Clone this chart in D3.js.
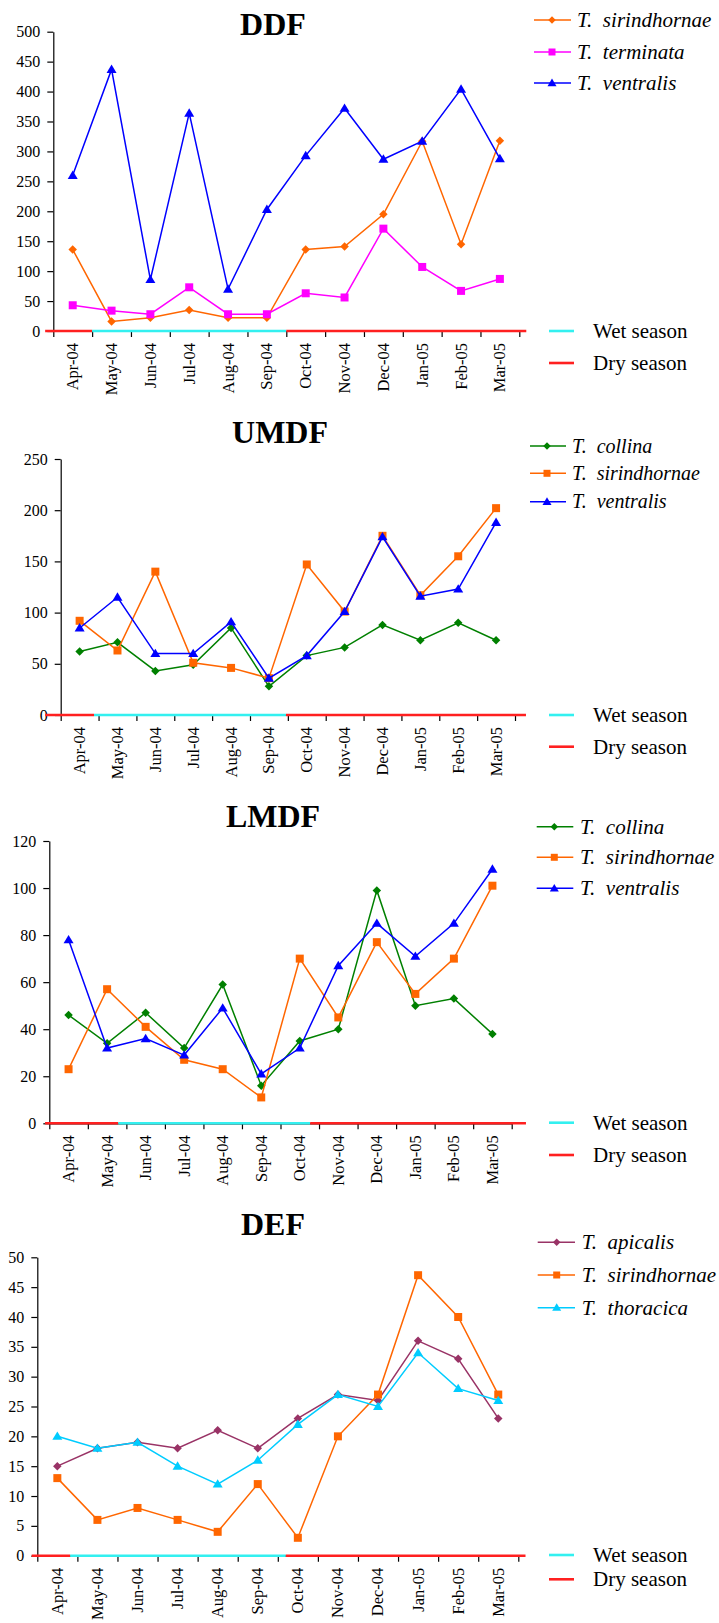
<!DOCTYPE html>
<html>
<head>
<meta charset="utf-8">
<script src="https://cdn.jsdelivr.net/npm/d3@7/dist/d3.min.js"></script>
<style>
  html, body { margin: 0; padding: 0; background: #fff; }
  svg { display: block; }
</style>
</head>
<body>
<svg id="chart" width="719" height="1623"></svg>
<script>
// Sampling months (April 2004 – March 2005)
const months = ["Apr-04", "May-04", "Jun-04", "Jul-04", "Aug-04", "Sep-04",
                "Oct-04", "Nov-04", "Dec-04", "Jan-05", "Feb-05", "Mar-05"];

// DDF
const ddfSirindhornae = [136, 16, 22, 35, 22, 22, 136, 141, 195, 317, 145, 318];
const ddfTerminata    = [43, 34, 28, 73, 28, 28, 63, 56, 171, 107, 67, 87];
const ddfVentralis    = [260, 437, 86, 364, 70, 203, 293, 372, 287, 317, 404, 288];
const ddfTicks        = [0, 50, 100, 150, 200, 250, 300, 350, 400, 450, 500];

// UMDF
const umdfCollina      = [62, 71, 43, 49, 85, 28, 58, 66, 88, 73, 90, 73];
const umdfSirindhornae = [92, 63, 140, 51, 46, 36, 147, 101, 175, 117, 155, 202];
const umdfVentralis    = [85, 115, 60, 60, 91, 36, 58, 101, 174, 116, 123, 188];
const umdfTicks        = [0, 50, 100, 150, 200, 250];

// LMDF
const lmdfCollina      = [46, 34, 47, 32, 59, 16, 35, 40, 99, 50, 53, 38];
const lmdfSirindhornae = [23, 57, 41, 27, 23, 11, 70, 45, 77, 55, 70, 101];
const lmdfVentralis    = [78, 32, 36, 29, 49, 21, 32, 67, 85, 71, 85, 108];
const lmdfTicks        = [0, 20, 40, 60, 80, 100, 120];

// DEF
const defApicalis      = [15, 18, 19, 18, 21, 18, 23, 27, 26, 36, 33, 23];
const defSirindhornae  = [13, 6, 8, 6, 4, 12, 3, 20, 27, 47, 40, 27];
const defThoracica     = [20, 18, 19, 15, 12, 16, 22, 27, 25, 34, 28, 26];
const defTicks         = [0, 5, 10, 15, 20, 25, 30, 35, 40, 45, 50];

const seasonNames = ["Wet season", "Dry season"];

// ---- styles ----
const FONT = "'Liberation Serif', Tinos, 'Times New Roman', serif";
const C = {
  orange: "#FF6600", magenta: "#FF00FF", blue: "#0000FF", green: "#008000",
  purple: "#993366", sky: "#00CCFF", wet: "#33F0F0", dry: "#FF2020"
};

// Excel-like marker shapes, size = characteristic width in px
const diamond = { draw(ctx, s) { const r = s / 2; ctx.moveTo(0, -r); ctx.lineTo(r, 0); ctx.lineTo(0, r); ctx.lineTo(-r, 0); ctx.closePath(); } };
const square  = { draw(ctx, s) { const r = s / 2; ctx.rect(-r, -r, s, s); } };
const triangle = { draw(ctx, s) { const w = s / 2, h = s * 0.84; ctx.moveTo(0, -h * 0.58); ctx.lineTo(w, h * 0.42); ctx.lineTo(-w, h * 0.42); ctx.closePath(); } };
const markerSize = { diamond: 8.5, square: 8, triangle: 10 };
const shapes = { diamond, square, triangle };

// ---- panel definitions ----
const panels = [
  {
    title: "DDF", yTicks: ddfTicks,
    series: [
      { name: "sirindhornae", values: ddfSirindhornae, color: C.orange,  shape: "diamond" },
      { name: "terminata",    values: ddfTerminata,    color: C.magenta, shape: "square" },
      { name: "ventralis",    values: ddfVentralis,    color: C.blue,    shape: "triangle" }
    ],
    box: { x0: 53.3, x1: 519.3, yTop: 31.7, yBot: 331 },
    title_: { x: 273, y: 35 },
    season: { left: -0.21, wetFrom: 1.0, wetTo: 6.0, right: 12.18 },
    legend: { lx0: 534, lx1: 571, mx: 552, tx: 577, rows: [20, 52, 83], fs: 21 },
    seasonLegend: { lx0: 549, lx1: 574, tx: 593, rows: [331, 363] }
  },
  {
    title: "UMDF", yTicks: umdfTicks,
    series: [
      { name: "collina",      values: umdfCollina,      color: C.green,  shape: "diamond" },
      { name: "sirindhornae", values: umdfSirindhornae, color: C.orange, shape: "square" },
      { name: "ventralis",    values: umdfVentralis,    color: C.blue,   shape: "triangle" }
    ],
    box: { x0: 60.7, x1: 515, yTop: 459, yBot: 715 },
    title_: { x: 280, y: 443.3 },
    season: { left: -0.41, wetFrom: 0.88, wetTo: 5.95, right: 12.29 },
    legend: { lx0: 530, lx1: 566, mx: 547, tx: 572, rows: [446, 473.3, 501.7], fs: 20 },
    seasonLegend: { lx0: 549, lx1: 574, tx: 593, rows: [715, 746.7] }
  },
  {
    title: "LMDF", yTicks: lmdfTicks,
    series: [
      { name: "collina",      values: lmdfCollina,      color: C.green,  shape: "diamond" },
      { name: "sirindhornae", values: lmdfSirindhornae, color: C.orange, shape: "square" },
      { name: "ventralis",    values: lmdfVentralis,    color: C.blue,   shape: "triangle" }
    ],
    box: { x0: 49.3, x1: 511.7, yTop: 841, yBot: 1123.3 },
    title_: { x: 273, y: 827.3 },
    season: { left: -0.11, wetFrom: 1.79, wetTo: 6.77, right: 12.37 },
    legend: { lx0: 536.7, lx1: 573.3, mx: 554.3, tx: 580, rows: [826.7, 857.3, 888.3], fs: 21 },
    seasonLegend: { lx0: 549, lx1: 574, tx: 593, rows: [1122.7, 1155] }
  },
  {
    title: "DEF", yTicks: defTicks,
    series: [
      { name: "apicalis",     values: defApicalis,     color: C.purple, shape: "diamond" },
      { name: "sirindhornae", values: defSirindhornae, color: C.orange, shape: "square" },
      { name: "thoracica",    values: defThoracica,    color: C.sky,    shape: "triangle" }
    ],
    box: { x0: 37.3, x1: 518.3, yTop: 1257.3, yBot: 1555.7 },
    title_: { x: 273, y: 1235 },
    season: { left: -0.14, wetFrom: 0.82, wetTo: 6.2, right: 12.18 },
    legend: { lx0: 537.7, lx1: 575, mx: 556.7, tx: 581.7, rows: [1242.3, 1275, 1307.7], fs: 21 },
    seasonLegend: { lx0: 549, lx1: 574, tx: 593, rows: [1555, 1579.3] }
  }
];

const svg = d3.select("#chart");

panels.forEach(p => {
  const g = svg.append("g").attr("class", "panel")
    .attr("font-family", FONT);
  const b = p.box;

  // month index scale (band boundaries) and band scale (point centres)
  const xi = d3.scaleLinear().domain([0, months.length]).range([b.x0, b.x1]);
  const xb = d3.scaleBand().domain(months).range([b.x0, b.x1]).padding(0);
  const cx = m => xb(m) + xb.bandwidth() / 2;
  const y = d3.scaleLinear().domain([0, d3.max(p.yTicks)]).range([b.yBot, b.yTop]);

  // title
  g.append("text")
    .attr("x", p.title_.x).attr("y", p.title_.y)
    .attr("text-anchor", "middle")
    .style("font-family", FONT)
    .style("font-size", "32px").style("font-weight", "bold")
    .text(p.title);

  // y axis
  const ya = g.append("g").attr("transform", `translate(${b.x0},0)`)
    .call(d3.axisLeft(y).tickValues(p.yTicks).tickSize(6).tickSizeOuter(0).tickPadding(7));
  ya.attr("font-family", FONT).attr("font-size", 16);
  ya.select(".domain").attr("stroke", "#000").attr("stroke-width", 1.2);
  ya.selectAll(".tick line").attr("stroke", "#000").attr("stroke-width", 1.2);
  ya.selectAll(".tick text")
    .style("font-family", FONT)
    .style("font-size", "16px").attr("fill", "#000");

  // x axis: ticks on month boundaries
  const xa = g.append("g").attr("transform", `translate(0,${b.yBot})`)
    .call(d3.axisBottom(xi).tickValues(d3.range(months.length + 1)).tickSize(6).tickSizeOuter(0).tickFormat(""));
  xa.select(".domain").attr("stroke", "#000").attr("stroke-width", 1.2);
  xa.selectAll(".tick line").attr("stroke", "#000").attr("stroke-width", 1.2);

  // month labels, rotated
  g.append("g").selectAll("text").data(months).join("text")
    .attr("transform", d => `translate(${cx(d)},${b.yBot + 12}) rotate(-90)`)
    .attr("text-anchor", "end").attr("dy", "0.33em")
    .style("font-family", FONT)
    .style("font-size", "16.5px")
    .text(d => d);

  // season band along the x axis
  const s = p.season;
  const seasonSegs = [
    { from: s.left, to: s.wetFrom, color: C.dry },
    { from: s.wetFrom, to: s.wetTo, color: C.wet },
    { from: s.wetTo, to: s.right, color: C.dry }
  ];
  g.append("g").selectAll("line").data(seasonSegs).join("line")
    .attr("x1", d => xi(d.from)).attr("x2", d => xi(d.to))
    .attr("y1", b.yBot).attr("y2", b.yBot)
    .attr("stroke", d => d.color).attr("stroke-width", 2.6);

  // series lines and markers
  const line = d3.line().x((v, i) => cx(months[i])).y(v => y(v));
  p.series.forEach(ser => {
    const sg = g.append("g");
    sg.append("path").datum(ser.values)
      .attr("d", line).attr("fill", "none")
      .attr("stroke", ser.color).attr("stroke-width", 1.5);
    sg.selectAll("path.m").data(ser.values).join("path").attr("class", "m")
      .attr("transform", (v, i) => `translate(${cx(months[i])},${y(v)})`)
      .attr("d", d3.symbol().type(shapes[ser.shape]).size(markerSize[ser.shape]))
      .attr("fill", ser.color);
  });

  // species legend
  const L = p.legend;
  const lg = g.append("g");
  p.series.forEach((ser, i) => {
    const ry = L.rows[i];
    lg.append("line").attr("x1", L.lx0).attr("x2", L.lx1).attr("y1", ry).attr("y2", ry)
      .attr("stroke", ser.color).attr("stroke-width", 1.5);
    lg.append("path").attr("transform", `translate(${L.mx},${ry})`)
      .attr("d", d3.symbol().type(shapes[ser.shape]).size(markerSize[ser.shape] - 1))
      .attr("fill", ser.color);
    lg.append("text").attr("x", L.tx).attr("y", ry).attr("dy", "0.33em")
      .style("font-family", FONT)
      .style("font-size", L.fs + "px").style("font-style", "italic")
      .style("white-space", "pre")
      .text("T.  " + ser.name);
  });

  // season legend
  const SL = p.seasonLegend;
  [C.wet, C.dry].forEach((col, i) => {
    const ry = SL.rows[i];
    lg.append("line").attr("x1", SL.lx0).attr("x2", SL.lx1).attr("y1", ry).attr("y2", ry)
      .attr("stroke", col).attr("stroke-width", 2.6);
    lg.append("text").attr("x", SL.tx).attr("y", ry).attr("dy", "0.33em")
      .style("font-family", FONT)
      .style("font-size", "21px")
      .text(seasonNames[i]);
  });
});
</script>
</body>
</html>
